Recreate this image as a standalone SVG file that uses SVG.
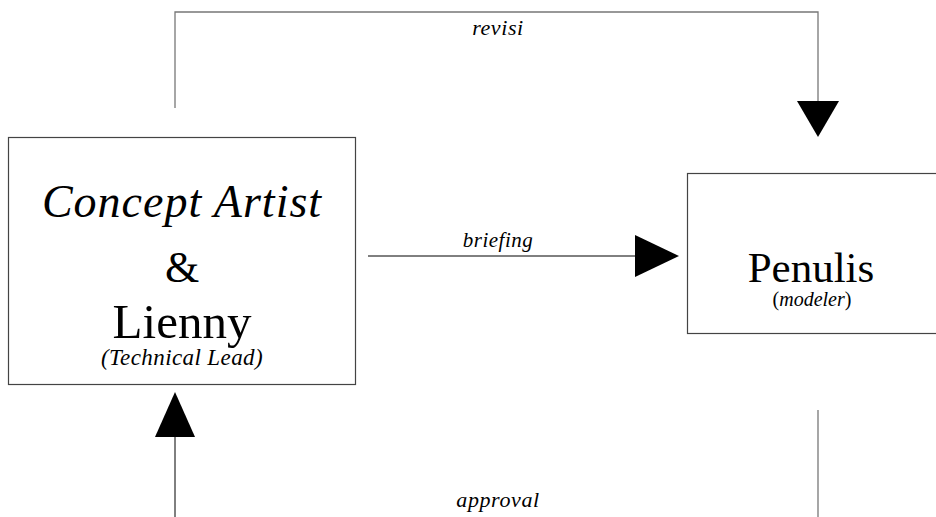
<svg xmlns="http://www.w3.org/2000/svg" width="936" height="517" viewBox="0 0 936 517">
<style>
.box{fill:#fff;stroke:#444;stroke-width:1.2}
.ln{fill:none;stroke:#000;stroke-width:1}
.lg{fill:none;stroke:#777;stroke-width:1.3}
.ah{fill:#000}
.t{font-family:'Liberation Serif','Times New Roman','DejaVu Serif',serif;fill:#000;text-anchor:middle}
.it{font-style:italic}
</style>
<rect width="936" height="517" fill="#fff"/>
<g id="connectors">
<g id="revisi">
<polyline class="lg" points="175,108 175,12 818,12 818,102"/>
<polygon class="ah" points="797,101 839,101 818,137"/>
<text class="t it" x="498" y="35" font-size="22" letter-spacing="0.6">revisi</text>
</g>
<g id="briefing">
<line class="ln" x1="368" y1="256" x2="636" y2="256"/>
<polygon class="ah" points="635,235 635,277 679,256"/>
<text class="t it" x="498" y="247" font-size="21" letter-spacing="0.5">briefing</text>
</g>
<g id="approval">
<line class="lg" x1="818" y1="410" x2="818" y2="517"/>
<line class="ln" x1="175" y1="437" x2="175" y2="517"/>
<polygon class="ah" points="155,437 195,437 175,392"/>
<text class="t it" x="498" y="507" font-size="22" letter-spacing="0.6">approval</text>
</g>
</g>
<g id="concept-artist">
<rect class="box" x="8.5" y="137.5" width="347" height="247"/>
<text class="t it" x="182" y="217" font-size="46" letter-spacing="1">Concept Artist</text>
<text class="t" x="182" y="282" font-size="44">&amp;</text>
<text class="t" x="182" y="338" font-size="49">Lienny</text>
<text class="t it" x="182" y="365" font-size="23" letter-spacing="0.4">(Technical Lead)</text>
</g>
<g id="penulis">
<rect class="box" x="687.5" y="173.5" width="260" height="160"/>
<text class="t" x="811" y="282" font-size="43">Penulis</text>
<text class="t" x="812" y="306" font-size="20">(<tspan class="it">modeler</tspan>)</text>
</g>
</svg>
